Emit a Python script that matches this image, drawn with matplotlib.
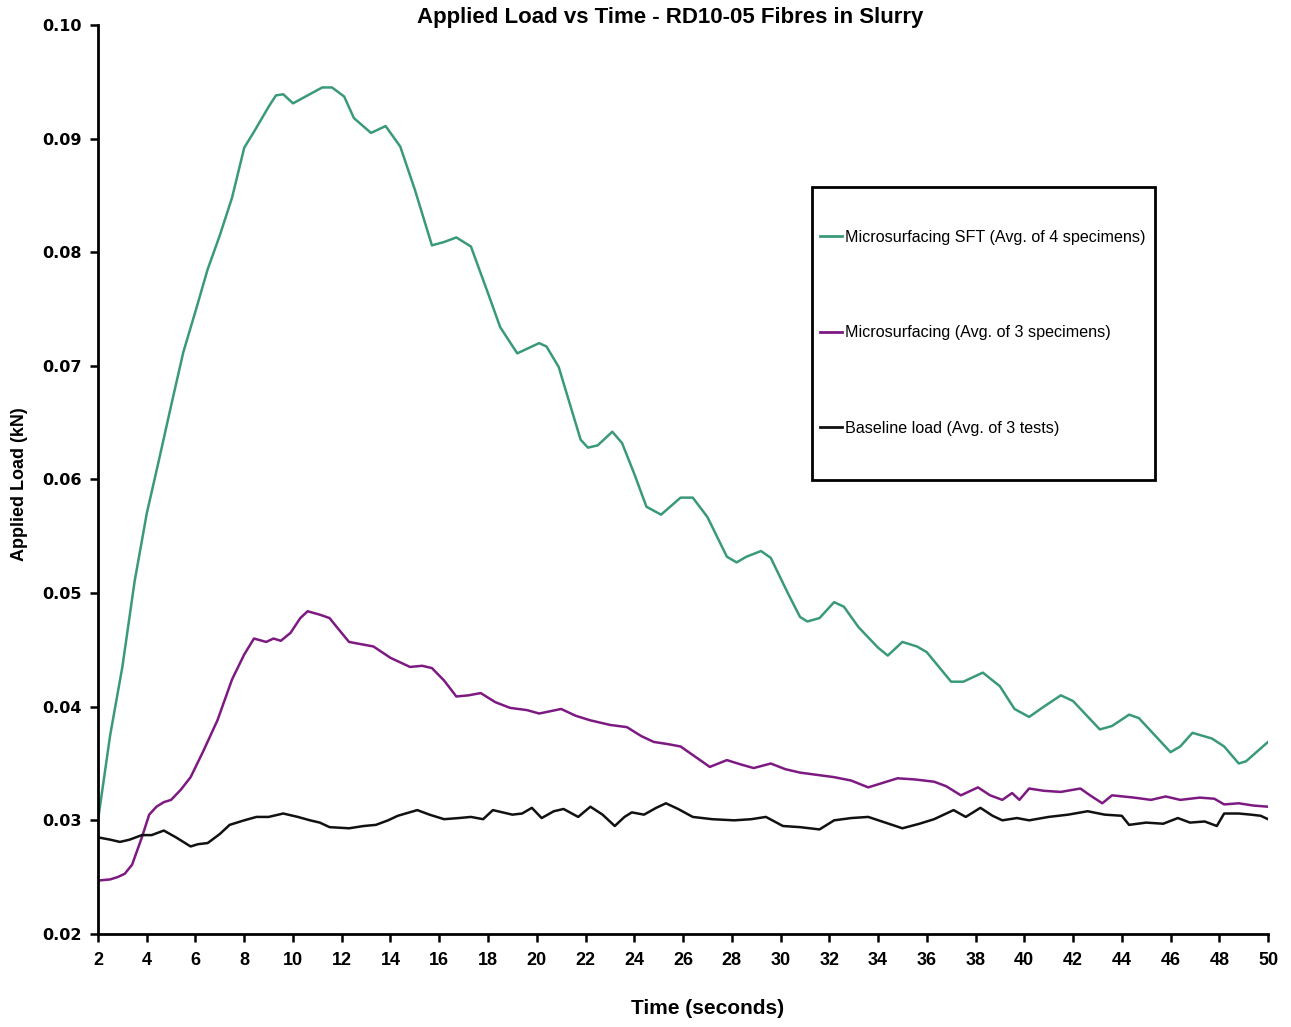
import matplotlib
matplotlib.use("Agg")
import matplotlib.pyplot as plt
from matplotlib.patches import Rectangle

# ---------------- data ----------------
sft_t = [2.0, 2.5, 3.0, 3.5, 4.0, 4.5, 5.0, 5.5, 6.0, 6.5, 7.0, 7.5, 8.0, 8.4, 9.0, 9.3, 9.6,
         10.0, 10.6, 11.2, 11.6, 12.1, 12.5, 13.2, 13.8, 14.4, 15.0, 15.7, 16.2, 16.7, 17.3,
         18.1, 18.5, 19.2, 19.6, 20.1, 20.4, 20.9, 21.8, 22.1, 22.5, 23.1, 23.5, 24.0, 24.5,
         25.1, 25.9, 26.4, 27.0, 27.8, 28.2, 28.6, 29.2, 29.6, 30.3, 30.8, 31.1, 31.6, 32.2,
         32.6, 33.2, 34.0, 34.4, 35.0, 35.6, 36.0, 37.0, 37.5, 38.3, 39.0, 39.6, 40.2, 40.8,
         41.5, 42.0, 43.1, 43.6, 44.3, 44.7, 46.0, 46.4, 46.9, 47.7, 48.2, 48.8, 49.1, 50.0]
sft_v = [0.0300, 0.0375, 0.0435, 0.0510, 0.0570, 0.0617, 0.0665, 0.0712, 0.0748, 0.0785,
         0.0815, 0.0848, 0.0892, 0.0906, 0.0928, 0.0938, 0.0939, 0.0931, 0.0938, 0.0945,
         0.0945, 0.0937, 0.0918, 0.0905, 0.0911, 0.0893, 0.0855, 0.0806, 0.0809, 0.0813,
         0.0805, 0.0758, 0.0734, 0.0711, 0.0715, 0.0720, 0.0717, 0.0699, 0.0635, 0.0628,
         0.0630, 0.0642, 0.0632, 0.0605, 0.0576, 0.0569, 0.0584, 0.0584, 0.0567, 0.0532,
         0.0527, 0.0532, 0.0537, 0.0531, 0.0500, 0.0479, 0.0475, 0.0478, 0.0492, 0.0488,
         0.0470, 0.0452, 0.0445, 0.0457, 0.0453, 0.0448, 0.0422, 0.0422, 0.0430, 0.0418,
         0.0398, 0.0391, 0.0400, 0.0410, 0.0405, 0.0380, 0.0383, 0.0393, 0.0390, 0.0360,
         0.0365, 0.0377, 0.0372, 0.0365, 0.0350, 0.0352, 0.0369]

micro_t = [2.0, 2.5, 2.8, 3.1, 3.4, 3.8, 4.1, 4.4, 4.7, 5.0, 5.4, 5.8, 6.3, 6.9, 7.5, 8.0,
           8.4, 8.9, 9.2, 9.5, 9.9, 10.3, 10.6, 11.1, 11.5, 11.8, 12.3, 12.8, 13.3, 14.0,
           14.8, 15.3, 15.7, 16.2, 16.7, 17.2, 17.7, 18.3, 18.9, 19.6, 20.1, 21.0, 21.6,
           22.2, 23.0, 23.7, 24.3, 24.8, 25.4, 25.9, 26.5, 27.1, 27.8, 28.4, 28.9, 29.6,
           30.2, 30.8, 31.5, 32.2, 32.9, 33.6, 34.2, 34.8, 35.5, 36.3, 36.8, 37.4, 38.1,
           38.6, 39.1, 39.5, 39.8, 40.2, 40.8, 41.5, 42.3, 42.7, 43.2, 43.6, 44.5, 45.2,
           45.8, 46.4, 47.2, 47.8, 48.2, 48.8, 49.4, 50.0]
micro_v = [0.0247, 0.0248, 0.0250, 0.0253, 0.0261, 0.0285, 0.0305, 0.0312, 0.0316, 0.0318,
           0.0327, 0.0338, 0.0360, 0.0388, 0.0424, 0.0446, 0.0460, 0.0457, 0.0460, 0.0458,
           0.0465, 0.0478, 0.0484, 0.0481, 0.0478, 0.0470, 0.0457, 0.0455, 0.0453, 0.0443,
           0.0435, 0.0436, 0.0434, 0.0423, 0.0409, 0.0410, 0.0412, 0.0404, 0.0399, 0.0397,
           0.0394, 0.0398, 0.0392, 0.0388, 0.0384, 0.0382, 0.0374, 0.0369, 0.0367, 0.0365,
           0.0356, 0.0347, 0.0353, 0.0349, 0.0346, 0.0350, 0.0345, 0.0342, 0.0340, 0.0338,
           0.0335, 0.0329, 0.0333, 0.0337, 0.0336, 0.0334, 0.0330, 0.0322, 0.0329, 0.0322,
           0.0318, 0.0324, 0.0318, 0.0328, 0.0326, 0.0325, 0.0328, 0.0322, 0.0315, 0.0322,
           0.0320, 0.0318, 0.0321, 0.0318, 0.0320, 0.0319, 0.0314, 0.0315, 0.0313, 0.0312]

base_t = [2.0, 2.5, 2.9, 3.3, 3.8, 4.2, 4.7, 5.2, 5.8, 6.1, 6.5, 7.0, 7.4, 8.0, 8.5, 9.0,
          9.6, 10.2, 10.7, 11.1, 11.5, 12.3, 12.9, 13.4, 13.9, 14.3, 15.1, 15.6, 16.2,
          16.8, 17.3, 17.8, 18.2, 18.6, 19.0, 19.4, 19.8, 20.2, 20.7, 21.1, 21.7, 22.2,
          22.7, 23.2, 23.6, 23.9, 24.4, 24.9, 25.3, 25.8, 26.4, 27.2, 28.1, 28.8, 29.4,
          30.1, 30.8, 31.6, 32.2, 32.9, 33.6, 34.3, 35.0, 35.7, 36.3, 37.1, 37.6, 38.2,
          38.7, 39.1, 39.7, 40.2, 41.0, 41.8, 42.6, 43.3, 44.0, 44.3, 45.0, 45.7, 46.3,
          46.8, 47.4, 47.9, 48.2, 48.8, 49.3, 49.7, 50.0]
base_v = [0.0285, 0.0283, 0.0281, 0.0283, 0.0287, 0.0287, 0.0291, 0.0285, 0.0277, 0.0279,
          0.0280, 0.0288, 0.0296, 0.0300, 0.0303, 0.0303, 0.0306, 0.0303, 0.0300, 0.0298,
          0.0294, 0.0293, 0.0295, 0.0296, 0.0300, 0.0304, 0.0309, 0.0305, 0.0301, 0.0302,
          0.0303, 0.0301, 0.0309, 0.0307, 0.0305, 0.0306, 0.0311, 0.0302, 0.0308, 0.0310,
          0.0303, 0.0312, 0.0305, 0.0295, 0.0303, 0.0307, 0.0305, 0.0311, 0.0315, 0.0310,
          0.0303, 0.0301, 0.0300, 0.0301, 0.0303, 0.0295, 0.0294, 0.0292, 0.0300, 0.0302,
          0.0303, 0.0298, 0.0293, 0.0297, 0.0301, 0.0309, 0.0303, 0.0311, 0.0304, 0.0300,
          0.0302, 0.0300, 0.0303, 0.0305, 0.0308, 0.0305, 0.0304, 0.0296, 0.0298, 0.0297,
          0.0302, 0.0298, 0.0299, 0.0295, 0.0306, 0.0306, 0.0305, 0.0304, 0.0301]

series_labels = ["Microsurfacing SFT (Avg. of 4 specimens)",
                 "Microsurfacing (Avg. of 3 specimens)",
                 "Baseline load (Avg. of 3 tests)"]
x_ticks = [2, 4, 6, 8, 10, 12, 14, 16, 18, 20, 22, 24, 26, 28, 30, 32, 34, 36, 38, 40,
           42, 44, 46, 48, 50]
y_ticks = [0.02, 0.03, 0.04, 0.05, 0.06, 0.07, 0.08, 0.09, 0.10]
title = "Applied Load vs Time - RD10-05 Fibres in Slurry"
x_label = "Time (seconds)"
y_label = "Applied Load (kN)"

# ---------------- style ----------------
font = "Liberation Sans"

fig = plt.figure(figsize=(12.91, 10.27), dpi=100)
ax = fig.add_axes([0.0759, 0.0906, 0.9063, 0.8851])

ax.plot(sft_t, sft_v, color="#3a9a78", lw=1.8, label=series_labels[0])
ax.plot(micro_t, micro_v, color="#7d1a82", lw=1.8, label=series_labels[1])
ax.plot(base_t, base_v, color="#111111", lw=1.8, label=series_labels[2])

ax.set_xlim(2, 50)
ax.set_ylim(0.02, 0.10)
ax.set_xticks(x_ticks)
ax.set_xticklabels([str(v) for v in x_ticks], fontfamily=font, fontweight="bold", fontsize=13)
ax.set_yticks(y_ticks)
ax.set_yticklabels([f"{v:.2f}" for v in y_ticks], fontfamily="DejaVu Sans", fontweight="bold", fontsize=11.5)
ax.tick_params(axis="both", direction="out", length=6, width=1.8, colors="black")
ax.tick_params(axis="x", pad=7)
ax.tick_params(axis="y", pad=6)
for s in ["top", "right"]:
    ax.spines[s].set_visible(False)
for s in ["left", "bottom"]:
    ax.spines[s].set_linewidth(2.0)

fig.text(0.519, 1 - 18 / 1027, title, fontfamily=font, fontweight="bold", fontsize=16,
         ha="center", va="center")
ax.set_xlabel(x_label, fontfamily=font, fontweight="bold", fontsize=15)
ax.xaxis.set_label_coords(0.521, -0.0715)
ax.set_ylabel(y_label, fontfamily=font, fontweight="bold", fontsize=13)
ax.yaxis.set_label_coords(-0.0598, 0.495)

leg = ax.legend(loc="center left", bbox_to_anchor=(0.617, 0.6612), frameon=False,
                prop={"family": font, "size": 11.6}, labelspacing=5.0, borderpad=0,
                handlelength=1.4, handletextpad=0.15, borderaxespad=0)
for line in leg.get_lines():
    line.set_linewidth(2.0)
ax.add_patch(Rectangle((0.6103, 0.4994), 0.9034 - 0.6103, 0.8218 - 0.4994,
                       transform=ax.transAxes, fill=False, edgecolor="black", lw=2.0, zorder=5))

fig.savefig("out.png", dpi=100, facecolor="white")
